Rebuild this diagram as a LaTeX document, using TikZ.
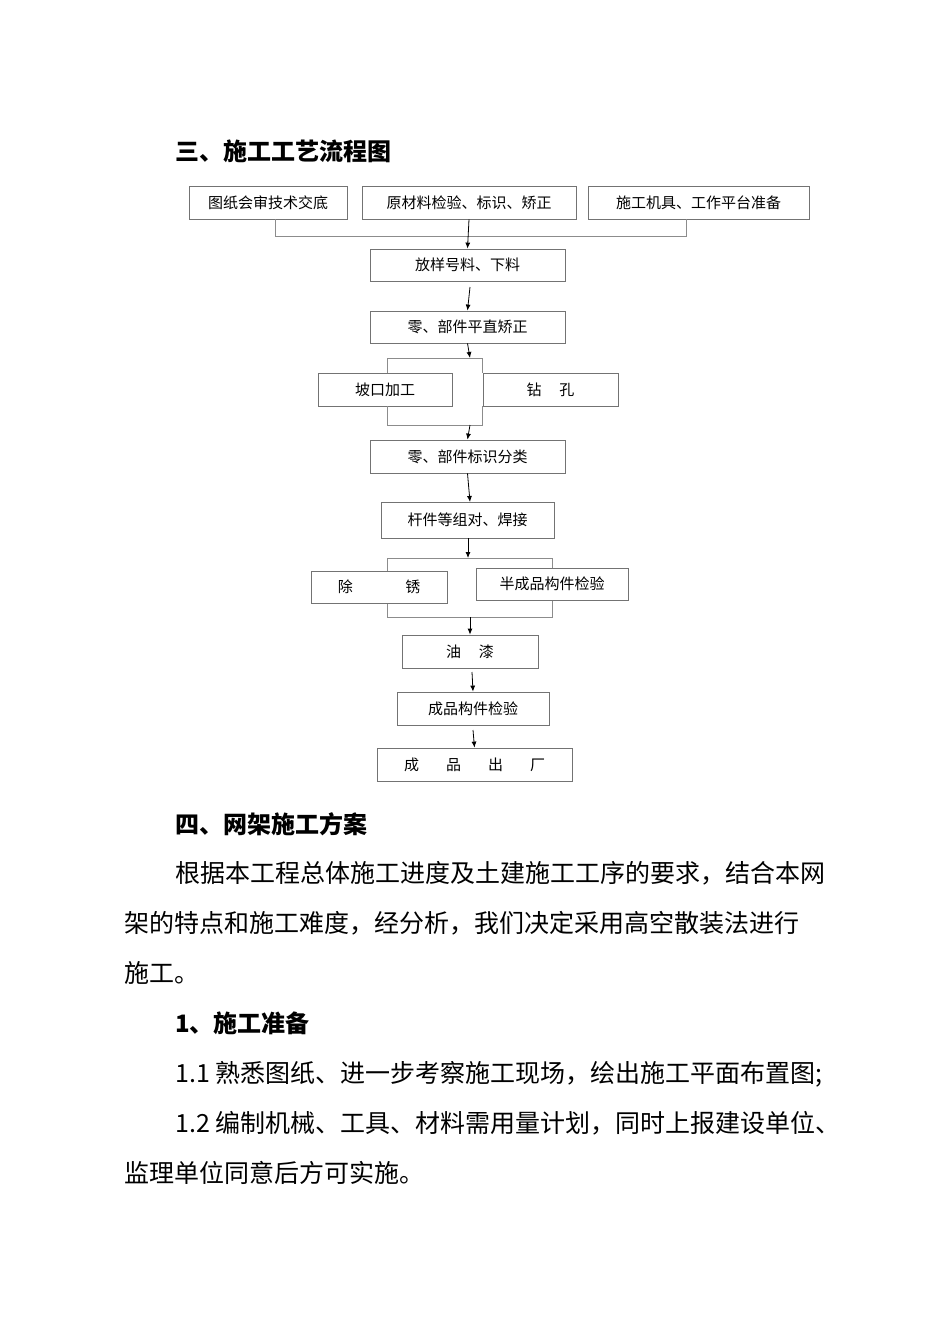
\documentclass[tikz,border=0pt]{standalone}
\usepackage{fontspec}
\setmainfont{Noto Sans CJK SC}
\newfontfamily\cjkb{Noto Sans CJK SC}[BoldFont={* Bold}]
\begin{document}
\begin{tikzpicture}[x=1pt,y=-1pt,
  bx/.style={draw=black!55,line width=0.8pt,inner sep=0pt,font=\fontsize{15}{15}\selectfont},
  ln/.style={draw=black!45,line width=0.8pt},
  ar/.style={ln,-{Latex[length=6pt,width=5pt]},draw=black},
  body/.style={anchor=base west,inner sep=0pt,font=\fontsize{25}{25}\selectfont},
  hd/.style={anchor=base west,inner sep=0pt,font=\fontsize{24}{24}\selectfont\bfseries}]
\usetikzlibrary{arrows.meta}
\useasboundingbox[fill=white] (0,0) rectangle (950,1344);
\newcommand\bxat[6]{\node[bx,minimum width=#3-#2,minimum height=#5-#4] (#1) at ({(#2+#3)/2},{(#4+#5)/2}) {#6};}
\node[hd] (h1) at (175,160) {三、施工工艺流程图};
\bxat{b1}{189}{347}{186}{219}{图纸会审技术交底}
\bxat{b2}{362}{576}{186}{219}{原材料检验、标识、矫正}
\bxat{b3}{588}{809}{186}{219}{施工机具、工作平台准备}
\bxat{b4}{370}{565}{249}{281}{放样号料、下料}
\bxat{b5}{370}{565}{311}{343}{零、部件平直矫正}
\bxat{b6}{318}{452}{373}{406}{坡口加工}
\bxat{b7}{483}{618}{373}{406}{钻\hspace{1.2em}孔}
\bxat{b8}{370}{565}{440}{473}{零、部件标识分类}
\bxat{b9}{381}{554}{502}{538}{杆件等组对、焊接\hspace{2em}}
\coordinate (q1) at (387,558); \coordinate (q2) at (552,558);
\coordinate (q3) at (552,617); \coordinate (q4) at (387,617);
\draw[ln] (q1) -- (q2) -- (q3) -- (q4) -- cycle;
\node[bx,fill=white,minimum width=136,minimum height=32] (b10) at (379,587) {除\hspace{3.5em}锈};
\node[bx,fill=white,minimum width=152,minimum height=32] (b11) at (552,584) {半成品构件检验};
\bxat{b12}{402}{538}{635}{668}{油\hspace{1.2em}漆}
\bxat{b13}{397}{549}{692}{725}{成品构件检验}
\bxat{b14}{377}{572}{748}{781}{成\hspace{1.8em}品\hspace{1.8em}出\hspace{1.8em}厂}
% connectors
\coordinate (t1) at (275,236); \coordinate (t2) at (686,236);
\draw[ln] (275,219) -- (t1) -- (t2) -- (686,219);
\draw[ar] (b2.south) -- (b4.north);
\draw[ar] (470,287) -- (b5.north);
\draw[ln] (387,373) |- (482,358) -- (482,373);
\draw[ar] (b5.south) -- (470,358);
\draw[ln] (387,406) |- (482,425) -- (482,406);
\draw[ar] (470,425) -- (b8.north);
\draw[ar] (b8.south) -- (470,502);
\draw[ar] (468,538) -- (468,558);
\draw[ar] (470,617) -- (b12.north);
\draw[ar] (472,672) -- (b13.north);
\draw[ar] (473,730) -- (b14.north);
\node[hd] (h2) at (175,833) {四、网架施工方案};
\node[body] (p1) at (175,882) {根据本工程总体施工进度及土建施工工序的要求，结合本网};
\node[body] (p2) at (124,932) {架的特点和施工难度，经分析，我们决定采用高空散装法进行};
\node[body] (p3) at (124,982) {施工。};
\node[hd] (h3) at (175,1032) {1、施工准备};
\node[body] (p4) at (175,1082) {1.1 熟悉图纸、进一步考察施工现场，绘出施工平面布置图;};
\node[body] (p5) at (175,1132) {1.2 编制机械、工具、材料需用量计划，同时上报建设单位、};
\node[body] (p6) at (124,1182) {监理单位同意后方可实施。};
\end{tikzpicture}
\end{document}
